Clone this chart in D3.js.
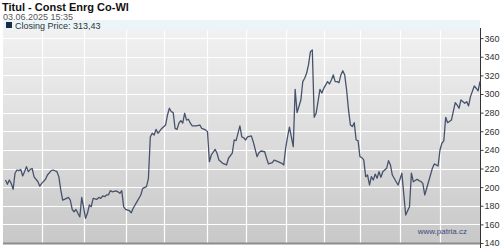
<!DOCTYPE html>
<html><head><meta charset="utf-8">
<script src="https://cdn.jsdelivr.net/npm/d3@7"></script>
<style>html,body{margin:0;padding:0;background:#fff;}svg{display:block;}</style>
</head><body>
<svg id="c" width="500" height="248"></svg>
<script>
const title = "Titul - Const Enrg Co-Wl";
const stamp = "03.06.2025 15:35";
const seriesName = "Closing Price";
const lastValue = "313,43";
const watermark = "www.patria.cz";
const yTicks = [140,160,180,200,220,240,260,280,300,320,340,360];
// trading-day index of each month start (Jul 2024 .. May 2025)
const monthStarts = [19,41,63,83,106,126,147,167,186,207,228];
// trading-day index (0 = 03.06.2024) and closing price
const days = [0,1,2,3,4,5,6,7,8,9,10,11,12,13,14,15,17,18,19,21,22,24,25,27,28,29,30,32,33,34,35,36,37,39,40,41,42,43,44,45,46,48,49,50,51,52,53,54,55,56,58,59,60,61,62,63,65,66,67,69,71,72,74,75,76,77,78,79,80,82,84,85,86,87,88,89,90,91,92,93,94,95,96,97,98,100,102,103,105,106,107,108,110,111,112,114,116,117,119,120,121,123,124,125,126,127,129,130,132,133,134,136,137,138,140,141,143,145,146,147,148,149,150,151,152,153,155,156,157,158,159,160,161,162,163,164,165,166,167,169,170,171,172,173,174,175,176,177,178,179,180,181,182,183,184,185,186,187,188,189,190,191,192,193,194,195,196,197,198,200,201,202,203,205,206,207,208,210,212,213,214,216,217,218,219,220,222,224,225,227,228,229,230,231,232,234,236,237,238,239,241,242,243,244,246,247,248,249];
const prices = [207.7,203,207.7,204,197.7,214.9,218.4,217.7,219,212,216.6,222,216.6,219,220,211,205.8,201,204,208.4,213,217.7,218.4,216.6,211,197,186,188,189,186,176,173.6,176,168,189,178,166.5,171.9,180.8,179,188,186.9,189,188,190.5,189.7,191.6,191.6,196.2,195,195.9,195,193.4,196.2,179,176.2,174.7,172.5,177.3,184.4,191.6,198.7,200.5,209.5,254,257.8,256,262,257.8,263,266.7,277.5,284.7,281,280,263,262,268.6,271.4,268.6,279.3,272,272.9,268.6,265.7,265.7,266.7,263,261.4,259.6,227.3,234.5,240.6,236.4,229,225.6,223.8,231,236.4,250.6,249.9,265.7,254,253,250.6,254,255,248.8,232.7,237,238.8,238,231,224.9,226.3,229,227.3,225.6,223.8,241.7,254,264.3,254,243.4,305,280,293.6,313.3,316.9,322.3,331.2,345.5,347.3,275,279.3,291.8,305,301,306,313.3,310.8,315,320.5,313.3,313.3,312.2,320.5,325,320.5,304.3,282.9,266.7,265,269.2,250.6,249.9,232.7,231.6,229.2,211.2,213,202.3,211.2,207.7,214,209.5,216.6,210.6,216.6,220.2,228.4,223.8,213,205.8,202.3,208.4,214.9,170,179,214.9,205.8,208.4,207,206,204,191.6,205.8,220.2,224.9,222.7,239.9,247.1,249.6,275,269.2,272,290.7,288.2,284.7,293.6,290,291.8,287.2,297.2,308.6,306.2,303.3,313.43];

const svg = d3.select("#c");
const L = 3, R = 480, T = 30, B = 243;
const x = d3.scaleLinear().domain([0,249]).range([5.5,480]);
const y = d3.scaleLinear().domain([140,380]).range([243,19.5]);

const defs = svg.append("defs");
const g = defs.append("linearGradient").attr("id","bg").attr("x1",0).attr("y1",0).attr("x2",0).attr("y2",1);
g.append("stop").attr("offset","0%").attr("stop-color","#f1f1f1");
g.append("stop").attr("offset","100%").attr("stop-color","#c8c8c8");

svg.append("rect").attr("x",L).attr("y",T).attr("width",R-L).attr("height",B-T).attr("fill","url(#bg)");
svg.append("rect").attr("x",L).attr("y",20).attr("width",R-L).attr("height",T-20).attr("fill","#eaf4f9");

// horizontal grid
svg.append("g").selectAll("line").data(yTicks.filter(v=>v>140)).join("line")
  .attr("x1",L).attr("x2",R).attr("y1",d=>Math.round(y(d))+0.5).attr("y2",d=>Math.round(y(d))+0.5)
  .attr("stroke","#ffffff").attr("stroke-width",1.2);
// vertical grid
svg.append("g").selectAll("line").data(monthStarts).join("line")
  .attr("x1",d=>Math.round(x(d))+0.5).attr("x2",d=>Math.round(x(d))+0.5).attr("y1",T).attr("y2",B)
  .attr("stroke","#ffffff").attr("stroke-width",1.2);

// bottom line
svg.append("line").attr("x1",L).attr("x2",R).attr("y1",B+0.5).attr("y2",B+0.5).attr("stroke","#8c8c8c").attr("stroke-width",2);

// right axis
const ax = svg.append("g").attr("transform",`translate(${R+0.5},0)`)
  .call(d3.axisRight(y).tickValues(yTicks).tickSize(3).tickPadding(1).tickFormat(d3.format("d")));
ax.select(".domain").remove();
ax.selectAll(".tick line").attr("stroke","#444");
ax.selectAll("text").attr("font-family","Arial, 'Liberation Sans', sans-serif").attr("font-size",9).attr("fill","#333");
svg.append("line").attr("x1",R+0.5).attr("x2",R+0.5).attr("y1",28).attr("y2",248).attr("stroke","#333").attr("stroke-width",1);

// price line
const line = d3.line().x((d,i)=>x(days[i])).y(d=>y(d));
svg.append("path").datum(prices).attr("d",line).attr("fill","none")
  .attr("stroke","#46526c").attr("stroke-width",1.3).attr("stroke-linejoin","round");

// texts
const ff = "Arial, 'Liberation Sans', sans-serif";
svg.append("text").attr("x",2).attr("y",11).attr("font-family",ff).attr("font-weight","bold").attr("font-size",11).attr("fill","#111").text(title);
svg.append("text").attr("x",3).attr("y",20).attr("font-family",ff).attr("font-size",9).attr("fill","#555").text(stamp);
svg.append("rect").attr("x",6).attr("y",22).attr("width",6).attr("height",6).attr("fill","#1b2a48");
svg.append("text").attr("x",15).attr("y",28.5).attr("font-family",ff).attr("font-size",9).attr("fill","#333").text(`${seriesName}: ${lastValue}`);
svg.append("text").attr("x",467).attr("y",234).attr("text-anchor","end").attr("font-family",ff).attr("font-size",8).attr("fill","#3b4a7a").text(watermark);
</script>
</body></html>
